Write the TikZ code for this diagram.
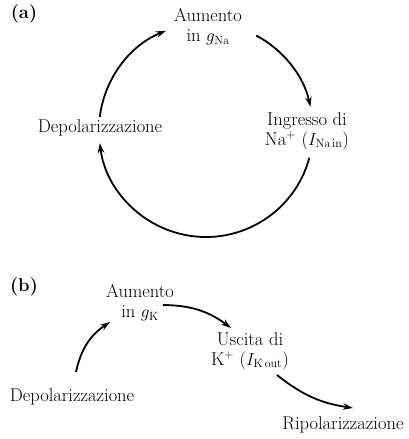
\documentclass[tikz,border=0pt]{standalone}
\usetikzlibrary{arrows.meta}
\begin{document}
\begin{tikzpicture}[x=1pt, y=1pt,
    lbl/.style={align=center, inner sep=0pt, font=\fontsize{18.5}{20}\selectfont},
    arr/.style={line width=1.8pt, -{Stealth[length=10pt, width=6.5pt]}}]
        \useasboundingbox (0,0) rectangle (409,439);

        \node[lbl] (a) at (24, 425) {\textbf{(a)}};
        \node[lbl] (a1) at (208, 412) {Aumento\\in $g_{\mathrm{Na}}$};
        \node[lbl] (a2) at (307, 308) {Ingresso di\\Na$^{+}$ ($I_{\mathrm{Na\,in}}$)};
        \node[lbl] (a3) at (100, 311) {Depolarizzazione};

        \coordinate (c) at (206, 309);
        \coordinate (p1) at ([shift={(173:107pt)}]c);
        \coordinate (p2) at ([shift={(62:107pt)}]c);
        \coordinate (p3) at ([shift={(-15:107pt)}]c);

        \draw[arr] (p1) arc[start angle=173, end angle=112, radius=107pt];
        \draw[arr] (p2) arc[start angle=62, end angle=12.5, radius=107pt];
        \draw[arr] (p3) arc[start angle=-15, end angle=-173, radius=107pt];

        \node[lbl] (b) at (24, 152) {\textbf{(b)}};
        \node[lbl] (b1) at (140, 136) {Aumento\\in $g_{\mathrm{K}}$};
        \node[lbl] (b2) at (250, 88) {Uscita di\\K$^{+}$ ($I_{\mathrm{K\,out}}$)};
        \node[lbl] (b3) at (72, 42) {Depolarizzazione};
        \node[lbl] (b4) at (343, 14) {Ripolarizzazione};

        \coordinate (q1) at (76, 67);
        \coordinate (q2) at (110, 117);
        \coordinate (q3) at (163, 134);
        \coordinate (q4) at (231, 111);
        \coordinate (q5) at (277, 64);
        \coordinate (q6) at (353, 31);

        \draw[arr] (q1) to[bend left=22] (q2);
        \draw[arr] (q3) to[bend left=18] (q4);
        \draw[arr] (q5) to[bend right=15] (q6);
    \end{tikzpicture}
\end{document}
